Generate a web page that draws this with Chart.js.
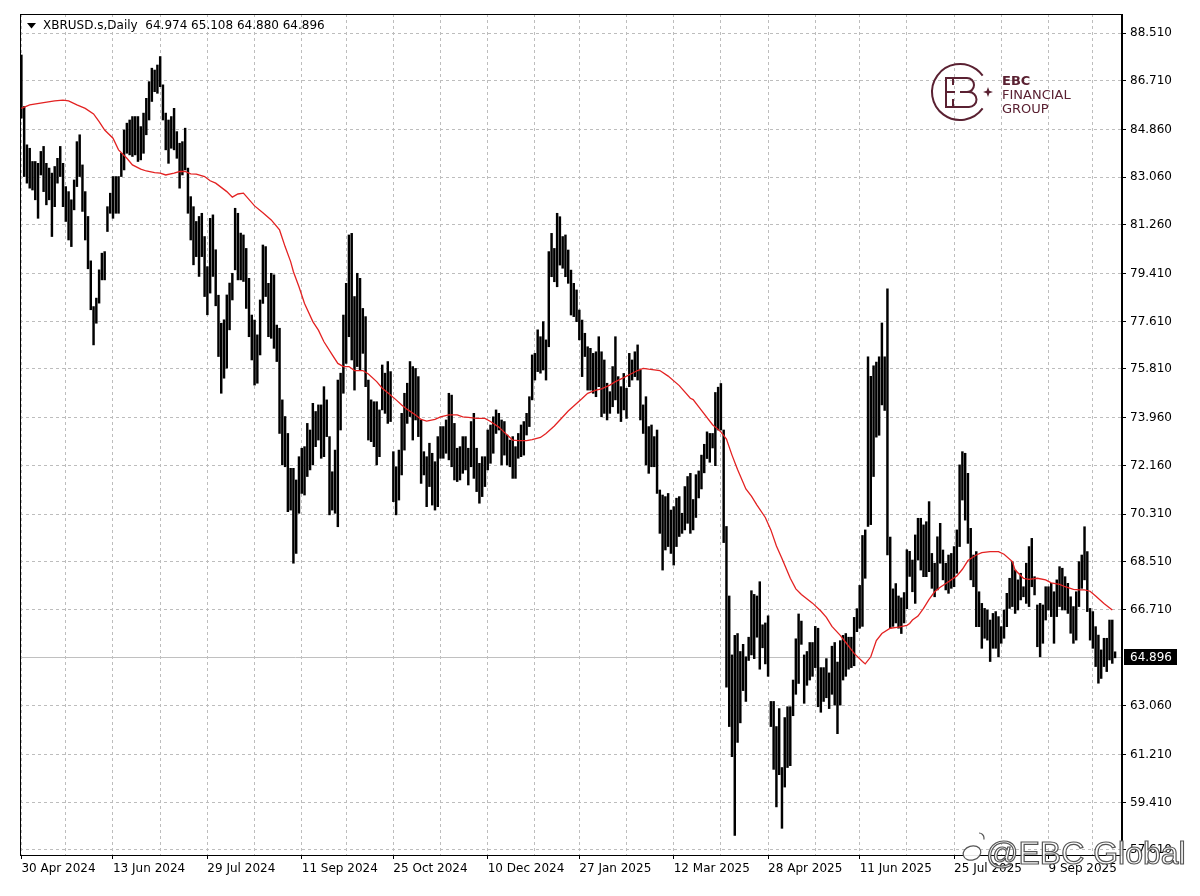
<!DOCTYPE html>
<html>
<head>
<meta charset="utf-8">
<title>XBRUSD.s Daily</title>
<script src="https://cdn.jsdelivr.net/npm/chart.js@4.4.1/dist/chart.umd.min.js"></script>
<style>
  html, body { margin: 0; padding: 0; background: #fff; }
  #wrap { width: 1200px; height: 896px; }
</style>
</head>
<body>
<div id="wrap"><canvas id="chart" width="1200" height="896"></canvas></div>
<script>
const symbolTitle = "XBRUSD.s,Daily";
const lastQuote = [64.974, 65.108, 64.880, 64.896]; // open high low close of last bar

// daily highs / lows, one per bar, oldest first
const highs = [
  87.69, 85.74, 84.29, 84.16, 83.66, 83.66, 83.59, 84.04, 84.23, 83.59,
  83.41, 83.22, 83.47, 83.78, 84.23, 83.59, 82.71, 82.52, 82.21, 82.96,
  84.41, 84.67, 83.53, 82.52, 81.58, 79.90, 78.17, 78.49, 79.56, 80.19, 80.25,
  81.95, 82.46, 83.09, 83.09, 83.09, 83.97, 84.85, 85.11, 85.23, 85.36,
  85.36, 85.36, 84.98, 85.49, 86.05, 86.68, 87.19, 87.12, 87.31, 87.63,
  86.56, 85.49, 85.23, 85.36, 85.67, 84.79, 84.35, 84.41, 84.92, 83.41,
  82.33, 81.95, 81.39, 81.58, 81.70, 80.82, 79.68, 81.51, 81.64, 80.32, 78.60,
  77.54, 77.67, 78.61, 79.06, 79.43, 81.89, 81.70, 80.95, 80.88, 80.37,
  79.24, 77.85, 77.66, 77.10, 78.42, 80.50, 80.44, 79.05, 79.43, 79.37,
  77.47, 77.35, 74.64, 74.01, 73.37, 72.05, 72.05, 71.61, 72.49, 72.81,
  72.87, 73.75, 73.50, 74.51, 74.20, 74.45, 74.45, 75.14, 74.64, 73.25,
  71.92, 72.74, 75.39, 75.65, 77.85, 79.05, 80.88, 80.94, 78.55, 79.43,
  79.24, 78.10, 77.79, 75.39, 74.64, 74.57, 74.57, 74.26, 75.96, 75.65,
  76.09, 75.71, 72.68, 72.11, 72.74, 74.13, 74.89, 75.27, 76.09, 75.90,
  75.83, 75.52, 73.88, 72.68, 72.49, 73.00, 72.62, 72.30, 73.25, 73.63,
  73.63, 73.88, 74.89, 74.82, 73.75, 72.81, 72.87, 73.25, 73.25, 72.81,
  73.82, 74.13, 72.81, 72.24, 72.49, 72.49, 73.50, 73.69, 74.00, 74.26,
  74.13, 73.88, 73.82, 73.31, 73.12, 73.25, 72.87, 73.37, 73.69, 73.82,
  74.13, 74.76, 76.34, 76.40, 77.29, 77.03, 77.60, 76.91, 80.25, 80.94,
  80.37, 81.70, 81.57, 80.82, 80.88, 80.31, 79.55, 79.05, 78.80, 78.04,
  77.66, 77.16, 76.65, 76.59, 76.40, 76.46, 77.03, 76.46, 76.15, 75.27,
  74.95, 75.90, 77.03, 75.52, 75.14, 75.64, 75.08, 76.40, 76.15, 76.46,
  76.72, 75.77, 74.45, 74.76, 73.63, 73.69, 73.25, 73.50, 71.23, 71.04,
  70.98, 71.10, 70.47, 70.60, 70.92, 70.98, 70.35, 71.36, 71.74, 71.86,
  70.87, 71.81, 71.95, 72.55, 72.96, 73.43, 73.37, 73.37, 74.92, 75.12,
  75.26, 73.50, 69.85, 67.22, 64.99, 65.73, 65.80, 65.12, 65.39, 64.92,
  65.66, 67.42, 67.28, 67.22, 67.76, 66.13, 66.20, 66.47, 63.23, 63.23,
  62.28, 62.96, 60.73, 62.62, 63.03, 63.03, 64.04, 65.60, 66.54, 66.27,
  64.99, 65.12, 65.46, 65.46, 66.07, 66.00, 64.51, 64.51, 64.85, 64.31,
  65.32, 65.46, 64.72, 65.53, 65.73, 65.80, 65.66, 65.66, 66.41, 66.74,
  67.62, 69.51, 69.72, 76.27, 75.53, 75.93, 76.07, 76.27, 77.55, 76.27,
  78.84, 69.45, 67.49, 67.69, 67.22, 67.15, 67.35, 68.97, 68.91, 68.58,
  69.53, 70.16, 70.16, 69.91, 70.03, 70.79, 68.83, 68.46, 69.46, 69.97,
  68.96, 68.46, 68.77, 68.83, 69.09, 69.72, 72.18, 72.68, 72.62,
  71.86, 69.78, 68.77, 68.90, 67.38, 66.94, 66.75, 66.69, 66.31,
  66.56, 66.63, 66.44, 66.06, 66.69, 67.32, 67.89, 68.52, 68.20,
  67.83, 68.08, 67.57, 68.46, 69.09, 69.40, 67.95, 66.88, 66.94, 66.88,
  67.57, 67.57, 67.70, 67.38, 67.83, 68.33, 68.27, 67.95, 67.70, 67.19,
  66.82, 67.38, 68.52, 68.77, 69.84, 68.90, 66.75, 66.63, 66.06, 65.74,
  65.18, 65.62, 65.62, 66.31, 66.31, 65.108
];
const lows = [
  85.30, 83.09, 82.84, 82.65, 82.58, 82.21, 81.51, 83.15, 82.52, 82.02,
  82.21, 80.82, 81.95, 82.84, 83.09, 81.95, 81.39, 80.69, 80.44, 81.83,
  82.71, 83.09, 81.77, 80.69, 79.60, 78.05, 76.72, 77.54, 78.30, 79.18, 79.18,
  81.01, 81.70, 81.51, 81.70, 81.70, 83.09, 83.34, 83.97, 83.91, 83.85,
  83.91, 83.66, 83.72, 83.97, 84.67, 85.23, 85.93, 86.30, 86.24, 86.49,
  85.23, 84.10, 83.59, 84.16, 84.10, 83.78, 82.65, 83.15, 83.34, 81.70,
  80.69, 79.75, 80.06, 79.31, 80.06, 78.55, 77.86, 78.68, 79.31, 78.20, 76.28,
  74.89, 75.46, 75.84, 77.29, 78.42, 79.56, 79.18, 79.18, 79.12, 78.10,
  77.03, 76.15, 75.20, 75.27, 76.34, 78.29, 78.55, 77.03, 76.97, 76.59,
  76.09, 73.37, 72.18, 72.11, 70.41, 70.47, 68.46, 68.83, 70.35, 71.10,
  71.04, 71.74, 71.99, 72.18, 72.87, 73.12, 72.43, 72.49, 73.25, 70.29,
  70.47, 70.35, 69.84, 73.50, 74.89, 76.02, 77.03, 76.15, 75.01, 75.90,
  75.77, 76.40, 75.14, 73.12, 73.06, 72.87, 72.18, 72.49, 74.26, 74.13,
  73.75, 73.82, 70.79, 70.29, 70.85, 71.80, 72.74, 73.75, 74.01, 73.12,
  73.88, 73.25, 71.48, 71.80, 70.60, 71.36, 70.66, 70.47, 70.60, 72.43,
  72.43, 72.62, 72.37, 72.11, 71.61, 71.55, 71.61, 71.86, 71.99, 71.42,
  72.11, 71.67, 71.17, 70.73, 70.98, 71.36, 71.99, 72.24, 72.62, 73.37,
  73.50, 72.18, 72.55, 72.18, 72.11, 71.67, 71.67, 72.43, 72.49, 72.55,
  73.31, 73.63, 74.64, 75.39, 75.71, 75.65, 75.77, 75.39, 76.65, 79.30,
  79.11, 78.92, 79.74, 79.62, 79.30, 79.05, 77.85, 77.79, 77.60, 76.91,
  75.52, 76.28, 75.01, 75.01, 74.89, 74.76, 75.14, 74.00, 74.13, 73.88,
  74.13, 74.38, 74.64, 74.13, 73.82, 74.26, 73.94, 75.14, 75.39, 75.52,
  75.39, 73.88, 73.37, 72.18, 71.86, 72.11, 72.11, 71.10, 69.59, 68.20,
  68.96, 69.09, 68.83, 68.39, 69.09, 69.47, 69.59, 69.72, 69.97, 69.59,
  69.72, 70.19, 70.93, 71.27, 71.88, 72.42, 72.28, 72.82, 72.15, 73.50,
  73.50, 69.24, 63.77, 62.28, 61.14, 58.16, 61.68, 62.42, 63.64, 63.23,
  64.78, 64.99, 64.85, 65.66, 64.45, 65.26, 64.65, 64.18, 62.28, 60.66,
  59.24, 60.46, 58.43, 59.99, 60.73, 60.80, 62.69, 63.50, 63.91, 65.39,
  63.16, 63.84, 64.04, 64.18, 64.51, 63.03, 62.82, 63.23, 63.37, 62.96,
  63.50, 63.09, 62.01, 63.09, 64.04, 64.18, 64.45, 64.51, 64.58, 65.87,
  66.00, 66.07, 67.89, 69.85, 69.92, 71.74, 73.23, 73.30, 74.45, 74.24,
  68.77, 66.00, 66.07, 66.20, 66.00, 65.80, 66.20, 66.74, 67.96, 67.38,
  66.94, 68.58, 68.20, 67.95, 67.95, 68.14, 67.51, 67.19, 67.45, 68.46,
  67.83, 67.45, 67.32, 67.51, 67.57, 68.08, 69.09, 70.85, 70.09,
  69.21, 67.83, 67.57, 66.06, 66.06, 65.24, 65.62, 65.55, 64.74,
  65.24, 65.24, 64.92, 65.43, 65.62, 66.06, 66.75, 66.82, 66.56,
  66.69, 67.07, 67.19, 66.94, 66.82, 67.57, 67.26, 65.30, 64.92, 65.43,
  66.31, 66.69, 66.44, 65.43, 66.44, 66.82, 66.69, 66.69, 66.56, 65.81,
  65.43, 65.55, 66.82, 67.51, 67.83, 66.63, 65.55, 65.24, 64.55, 63.92,
  64.10, 64.55, 64.36, 64.80, 64.67, 64.880
];

// moving average: [bar index, value]
const maPoints = [
  [0, 85.67], [3, 85.80], [8, 85.89], [12, 85.95], [15, 85.98], [17, 85.95],
  [20, 85.80], [23, 85.67], [26, 85.46], [28, 85.17], [30, 84.85], [33, 84.54],
  [35, 84.10], [38, 83.78], [40, 83.53], [43, 83.37], [45, 83.30], [48, 83.24],
  [50, 83.22], [52, 83.15], [55, 83.22], [57, 83.28], [59, 83.28], [61, 83.19],
  [63, 83.18], [66, 83.09], [68, 82.93], [70, 82.84], [74, 82.52], [76, 82.31],
  [78, 82.43], [80, 82.46], [84, 81.98], [87, 81.72], [90, 81.45], [93, 81.07],
  [95, 80.44], [97, 79.87], [98, 79.49], [100, 78.92], [102, 78.29], [105, 77.60],
  [107, 77.28], [109, 76.84], [112, 76.34], [114, 76.02], [116, 75.90], [118, 75.90],
  [120, 75.75], [123, 75.75], [125, 75.62], [128, 75.33], [130, 75.08], [132, 74.91],
  [135, 74.64], [137, 74.45], [139, 74.28], [142, 74.07], [144, 73.90], [146, 73.84],
  [149, 73.90], [151, 74.00], [154, 74.07], [157, 74.07], [159, 74.00], [161, 73.98],
  [164, 73.94], [167, 73.94], [169, 73.82], [172, 73.61], [174, 73.41], [177, 73.12],
  [179, 73.10], [182, 73.10], [184, 73.14], [187, 73.22], [189, 73.37], [192, 73.65],
  [194, 73.88], [197, 74.22], [199, 74.41], [202, 74.69], [204, 74.89], [207, 75.01],
  [209, 75.06], [212, 75.20], [214, 75.33], [217, 75.48], [219, 75.59], [222, 75.75],
  [224, 75.83], [226, 75.80], [230, 75.75], [233, 75.54], [237, 75.18], [241, 74.70],
  [242, 74.65], [245, 74.24], [249, 73.70], [252, 73.43], [254, 73.16], [256, 72.55],
  [258, 72.01], [261, 71.27], [263, 71.00], [265, 70.66], [268, 70.19], [270, 69.72],
  [272, 69.11], [274, 68.64], [277, 67.89], [279, 67.49], [281, 67.28], [285, 66.95],
  [288, 66.65], [290, 66.41], [292, 66.07], [295, 65.73], [297, 65.46], [300, 65.05],
  [303, 64.74], [304, 64.65], [306, 64.92], [308, 65.53], [310, 65.80], [313, 66.00],
  [316, 66.04], [319, 66.11], [320, 66.18], [321, 66.31], [323, 66.46], [325, 66.75],
  [327, 67.09], [329, 67.38], [331, 67.55], [334, 67.76], [337, 67.98], [339, 68.23],
  [341, 68.56], [344, 68.77], [346, 68.86], [349, 68.90], [352, 68.90], [354, 68.80],
  [357, 68.52], [358, 68.20], [361, 67.89], [363, 67.85], [366, 67.89], [369, 67.83],
  [371, 67.72], [374, 67.66], [376, 67.57], [379, 67.47], [381, 67.45], [383, 67.45],
  [385, 67.40], [387, 67.22], [390, 66.94], [393, 66.69]
];

const priceTicks = [88.51, 86.71, 84.86, 83.06, 81.26, 79.41, 77.61, 75.81, 73.96,
  72.16, 70.31, 68.51, 66.71, 63.06, 61.21, 59.41, 57.61];

// bar index where each date label sits
const dateTicks = [
  [0, "30 Apr 2024"], [33, "13 Jun 2024"], [67, "29 Jul 2024"], [101, "11 Sep 2024"],
  [134, "25 Oct 2024"], [168, "10 Dec 2024"], [201, "27 Jan 2025"], [235, "12 Mar 2025"],
  [269, "28 Apr 2025"], [302, "11 Jun 2025"], [336, "25 Jul 2025"], [370, "9 Sep 2025"]
];
const midGrid = [16, 50, 84, 117, 151, 185, 218, 252, 286, 319, 353, 386];

const slots = highs.length + 2;
const slotLabels = Array.from({ length: slots }, (_, i) => i);
const gridSlots = dateTicks.map(d => d[0]).concat(midGrid).sort((a, b) => a - b);
const baseFont = { family: "DejaVu Sans", size: 12 };

function dateLabel(v) {
  const d = dateTicks.find(t => t[0] === v);
  return d ? d[1] : "";
}

function drawLogo(ctx) {
  const c = "#5a2132";
  ctx.save();
  ctx.strokeStyle = c;
  ctx.fillStyle = c;
  ctx.lineWidth = 2;
  ctx.beginPath();
  ctx.arc(960, 92, 28, 0.2 * Math.PI, 1.8 * Math.PI);
  ctx.stroke();
  // E
  ctx.beginPath();
  ctx.moveTo(958, 78); ctx.lineTo(946, 78); ctx.lineTo(946, 107); ctx.lineTo(958, 107);
  ctx.moveTo(946, 92); ctx.lineTo(955, 92);
  ctx.stroke();
  // B
  ctx.beginPath();
  ctx.moveTo(953, 85); ctx.lineTo(953, 78); ctx.lineTo(967, 78);
  ctx.arc(967, 85, 7, -Math.PI / 2, Math.PI / 2);
  ctx.lineTo(960, 92);
  ctx.moveTo(953, 99); ctx.lineTo(953, 107); ctx.lineTo(969, 107);
  ctx.arc(969, 99.5, 7.5, Math.PI / 2, -Math.PI / 2, true);
  ctx.lineTo(962, 92);
  ctx.stroke();
  // small star in the gap
  ctx.beginPath();
  ctx.moveTo(988, 87); ctx.lineTo(989.3, 90.7); ctx.lineTo(993, 92); ctx.lineTo(989.3, 93.3);
  ctx.lineTo(988, 97); ctx.lineTo(986.7, 93.3); ctx.lineTo(983, 92); ctx.lineTo(986.7, 90.7);
  ctx.closePath();
  ctx.fill();
  ctx.textBaseline = "alphabetic";
  ctx.textAlign = "left";
  ctx.font = "bold 13px 'DejaVu Sans'";
  ctx.fillText("EBC", 1002, 85);
  ctx.font = "13px 'DejaVu Sans'";
  ctx.fillText("FINANCIAL", 1002, 99);
  ctx.fillText("GROUP", 1002, 113);
  ctx.restore();
}

function drawWatermark(ctx) {
  ctx.save();
  ctx.lineWidth = 1.2;
  ctx.strokeStyle = "#555";
  ctx.fillStyle = "rgba(255,255,255,0.9)";
  ctx.beginPath();
  ctx.ellipse(972, 853, 9, 7, -0.3, 0, Math.PI * 2);
  ctx.fill();
  ctx.stroke();
  ctx.beginPath();
  ctx.arc(979, 838, 5, -Math.PI / 2, 0.3);
  ctx.stroke();
  ctx.font = "32px 'Liberation Sans'";
  ctx.textBaseline = "alphabetic";
  ctx.fillText("@EBC Global", 986, 864);
  ctx.strokeText("@EBC Global", 986, 864);
  ctx.restore();
}

const mtOverlay = {
  id: "mtOverlay",
  beforeDatasetsDraw(chart) {
    const ctx = chart.ctx, a = chart.chartArea;
    const y = Math.round(chart.scales.y.getPixelForValue(lastQuote[3])) + 0.5;
    ctx.save();
    ctx.strokeStyle = "#c0c0c0";
    ctx.lineWidth = 1;
    ctx.beginPath();
    ctx.moveTo(a.left, y);
    ctx.lineTo(a.right, y);
    ctx.stroke();
    ctx.restore();
  },
  afterDraw(chart) {
    const ctx = chart.ctx, a = chart.chartArea;
    ctx.save();
    // frame
    ctx.strokeStyle = "#000";
    ctx.lineWidth = 1;
    ctx.strokeRect(Math.round(a.left) + 0.5, Math.round(a.top) + 0.5,
      Math.round(a.right - a.left) - 1, Math.round(a.bottom - a.top));

    // symbol line
    ctx.fillStyle = "#000";
    ctx.beginPath();
    ctx.moveTo(27, 23); ctx.lineTo(36, 23); ctx.lineTo(31.5, 28.5);
    ctx.closePath();
    ctx.fill();
    ctx.font = "12px 'DejaVu Sans'";
    ctx.textBaseline = "middle";
    ctx.textAlign = "left";
    ctx.fillText(symbolTitle + "  " + lastQuote.map(v => v.toFixed(3)).join(" "), 43, 26);

    // last price box
    const y = Math.round(chart.scales.y.getPixelForValue(lastQuote[3]));
    ctx.fillRect(a.right + 2, y - 8, 53, 16);
    ctx.fillStyle = "#fff";
    ctx.fillText(lastQuote[3].toFixed(3), a.right + 8, y + 0.5);
    ctx.restore();

    drawLogo(ctx);
    drawWatermark(ctx);
  }
};

new Chart(document.getElementById("chart"), {
  type: "bar",
  data: {
    labels: slotLabels,
    datasets: [
      {
        type: "line",
        label: "MA",
        data: maPoints.map(p => ({ x: p[0], y: p[1] })),
        borderColor: "#e32222",
        borderWidth: 1.3,
        pointRadius: 0,
        tension: 0,
        order: 0
      },
      {
        type: "bar",
        label: "XBRUSD.s",
        data: highs.map((h, i) => [lows[i], h]),
        backgroundColor: "#000",
        barThickness: 1.8,
        order: 1
      }
    ]
  },
  options: {
    responsive: false,
    animation: false,
    layout: { padding: { left: 20, top: 14, right: 0, bottom: 0 } },
    plugins: { legend: { display: false }, tooltip: { enabled: false } },
    scales: {
      x: {
        type: "category",
        offset: true,
        grid: {
          offset: false,
          color: "#bdbdbd",
          tickLength: 4,
          tickColor: c => (c.tick && dateLabel(c.tick.value) ? "#000" : "rgba(0,0,0,0)")
        },
        border: { color: "#000", width: 1, dash: [3, 3] },
        ticks: {
          autoSkip: false,
          maxRotation: 0,
          align: "start",
          padding: 3,
          color: "#000",
          font: baseFont,
          callback: v => dateLabel(v)
        },
        afterBuildTicks: axis => { axis.ticks = gridSlots.map(v => ({ value: v })); },
        afterFit: axis => { axis.height = 41; }
      },
      y: {
        position: "right",
        min: 57.42,
        max: 89.24,
        grid: { color: "#bdbdbd", tickLength: 4, tickColor: "#000" },
        border: { color: "#000", width: 1, dash: [3, 3] },
        ticks: {
          padding: 4,
          color: "#000",
          font: baseFont,
          callback: v => v.toFixed(3)
        },
        afterBuildTicks: axis => { axis.ticks = priceTicks.map(v => ({ value: v })); },
        afterFit: axis => { axis.width = 78; }
      }
    }
  },
  plugins: [mtOverlay]
});
</script>
</body>
</html>
